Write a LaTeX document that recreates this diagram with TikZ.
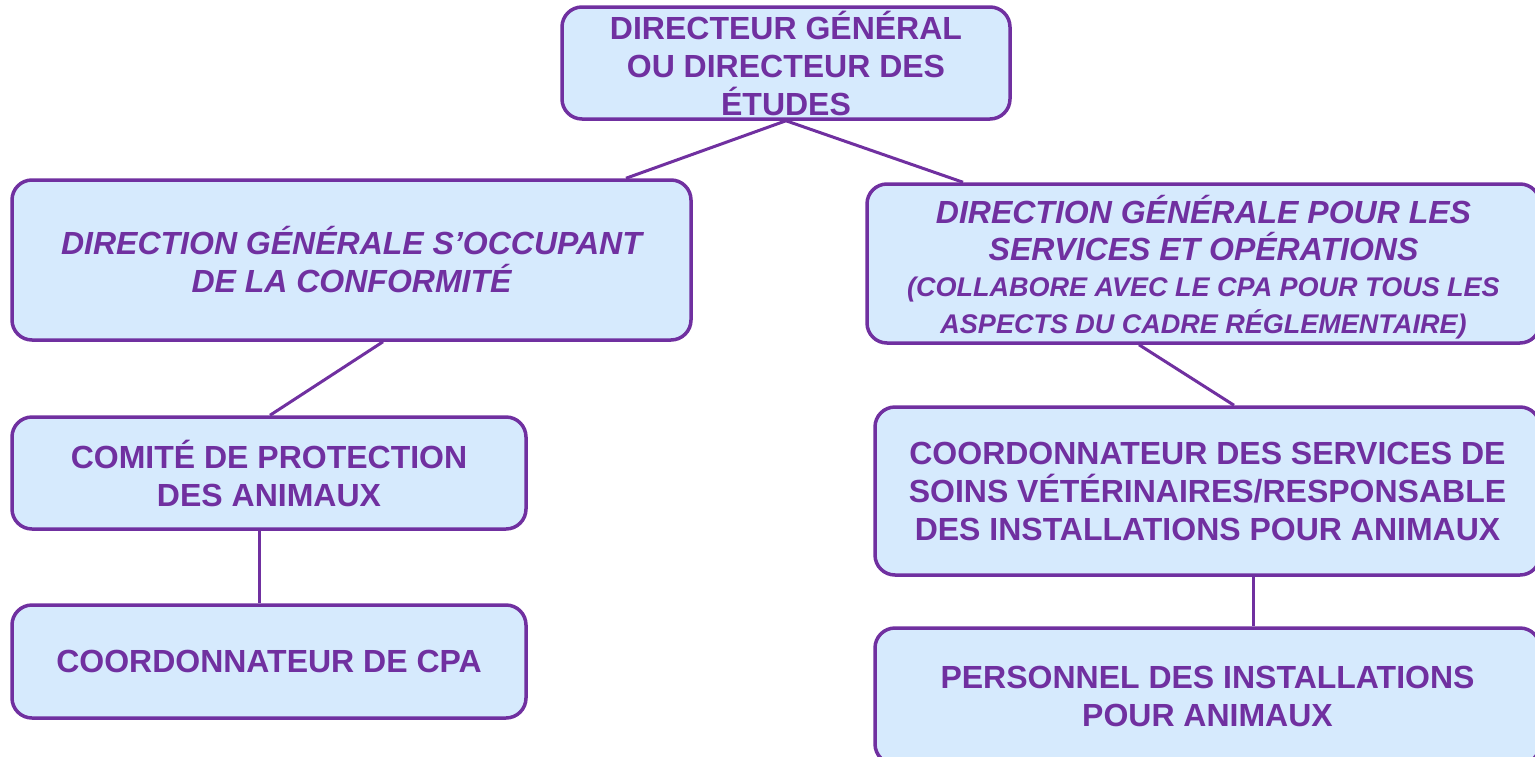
\documentclass[tikz,border=0pt]{standalone}
\usepackage{fontspec}
\setmainfont{Liberation Sans}
\definecolor{boxfill}{RGB}{214,234,253}
\definecolor{purp}{RGB}{112,48,160}
\newcommand{\smallline}{\fontsize{27}{34}\selectfont}
\begin{document}
\begin{tikzpicture}[x=1pt,y=-1pt,
  box/.style={draw=purp, fill=boxfill, line width=3.5pt, rounded corners=20pt,
    align=center, text=purp, font=\fontsize{32}{38}\selectfont\bfseries, inner sep=0pt},
  boxtext/.style={align=center, text=purp, inner sep=0pt},
  link/.style={draw=purp, line width=3pt}]
\useasboundingbox (0,0) rectangle (1535,756);
\node[box, minimum width=448pt, minimum height=112pt] (top) at (786,63)
  {DIRECTEUR GÉNÉRAL\\OU DIRECTEUR DES\\ÉTUDES};
\node[box, minimum width=679pt, minimum height=160pt, font=\fontsize{32}{38}\selectfont\bfseries\itshape] (A) at (351.5,260)
  {DIRECTION GÉNÉRALE S’OCCUPANT\\DE LA CONFORMITÉ};
\node[box, minimum width=673pt, minimum height=159pt] (B) at (1203.5,263.5) {};
\node[boxtext, font=\fontsize{32}{37}\selectfont\bfseries\itshape] (Bt) at ([yshift=-4pt]B.center)
  {DIRECTION GÉNÉRALE POUR LES\\SERVICES ET OPÉRATIONS\\[-1pt]
   \smallline (COLLABORE AVEC LE CPA POUR TOUS LES\\\smallline ASPECTS DU CADRE RÉGLEMENTAIRE)};
\node[box, minimum width=514pt, minimum height=112pt] (C) at (269,473)
  {COMITÉ DE PROTECTION\\DES ANIMAUX};
\node[box, minimum width=665pt, minimum height=168pt] (D) at (1207.5,491)
  {COORDONNATEUR DES SERVICES DE\\SOINS VÉTÉRINAIRES/RESPONSABLE\\DES INSTALLATIONS POUR ANIMAUX};
\node[box, minimum width=514pt, minimum height=113pt] (E) at (269,661.5)
  {COORDONNATEUR DE CPA};
\node[box, minimum width=665pt, minimum height=136pt] (F) at (1207.5,696)
  {PERSONNEL DES INSTALLATIONS\\POUR ANIMAUX};
\draw[link] (top.south) -- ([xshift=274.5pt]A.north);
\draw[link] (top.south) -- ([xshift=-240.5pt]B.north);
\draw[link] ([xshift=31.5pt]A.south) -- ([xshift=1pt]C.north);
\draw[link] ([xshift=-64.5pt]B.south) -- ([xshift=26.5pt]D.north);
\draw[link] ([xshift=-10pt]C.south) -- ([xshift=-10pt]E.north);
\draw[link] ([xshift=45.5pt]D.south) -- ([xshift=45.5pt]F.north);
\end{tikzpicture}
\end{document}
